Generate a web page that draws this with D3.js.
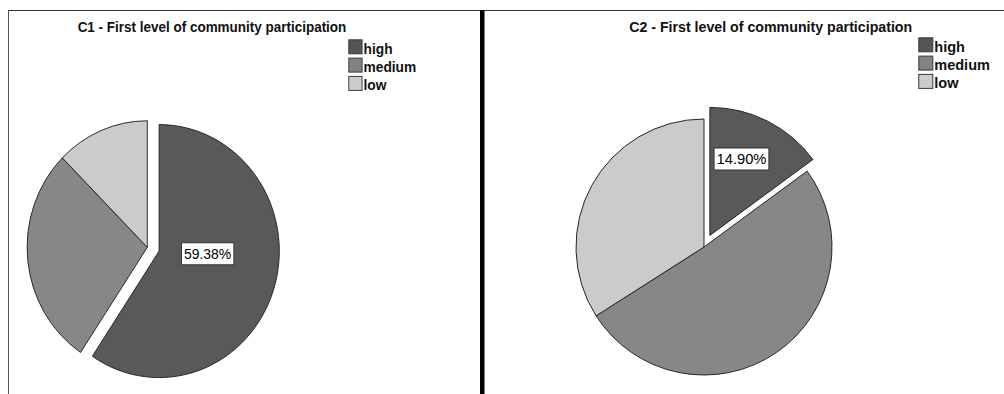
<!DOCTYPE html>
<html>
<head>
<meta charset="utf-8">
<script src="https://cdn.jsdelivr.net/npm/d3@7/dist/d3.min.js"></script>
<style>
  html, body { margin: 0; padding: 0; background: #fff; }
  svg { display: block; }
</style>
</head>
<body>
<svg id="chart" width="1004" height="394"></svg>
<script>
// Response categories shared by both pies
const categories = ["high", "medium", "low"];
// Percentage of respondents per category
const c1Values = [59.38, 28.13, 12.50];
const c2Values = [14.90, 51.06, 34.04];
const titles = [
  "C1 - First level of community participation",
  "C2 - First level of community participation"
];
// Slice that is pulled out and labelled in each pie
const highlighted = ["high", "high"];

const fills = d3.scaleOrdinal(categories, ["#595959", "#878787", "#cbcbcb"]);
const legendFills = d3.scaleOrdinal(categories, ["#555555", "#828282", "#cccccc"]);

const svg = d3.select("#chart");
const W = 1004, H = 394;

// Panel geometry
const panels = [
  { x: 8.5, sx: 0.95, cx: 146.1, cy: 247.3, r: 126.5, titleX: 214.2, titleY: 32.3,
    legendX: 357.7, legendY: 39.3, labelDx: 51, labelDy: 2.7 },
  { x: 485, sx: 1, cx: 219, cy: 247, r: 128, titleX: 285.7, titleY: 32.3,
    legendX: 433.3, legendY: 37.3, labelDx: 31.6, labelDy: -76.4 }
];
const seriesValues = [c1Values, c2Values];
const explode = 13;

// Frame: top rule, left rule and the heavy divider between the two charts
svg.append("line").attr("x1", 8).attr("x2", W).attr("y1", 10.5).attr("y2", 10.5)
  .attr("stroke", "#333").attr("stroke-width", 1);
svg.append("line").attr("x1", 8.5).attr("x2", 8.5).attr("y1", 10).attr("y2", H)
  .attr("stroke", "#555").attr("stroke-width", 1);
svg.append("rect").attr("x", 480).attr("y", 10).attr("width", 4.5).attr("height", H - 10)
  .attr("fill", "#000");

const pie = d3.pie().sort(null).value(d => d.value).startAngle(0).endAngle(2 * Math.PI);

panels.forEach((p, i) => {
  const g = svg.append("g").attr("transform", `translate(${p.x},0) scale(${p.sx},1)`);
  const data = categories.map((c, k) => ({ category: c, value: seriesValues[i][k] }));
  const arcs = pie(data);
  const arc = d3.arc().innerRadius(0).outerRadius(p.r);

  const offset = d => {
    if (d.data.category !== highlighted[i]) return [0, 0];
    const a = (d.startAngle + d.endAngle) / 2;
    return [explode * Math.sin(a), -explode * Math.cos(a)];
  };

  const pg = g.append("g").attr("transform", `translate(${p.cx},${p.cy})`);
  pg.selectAll("path.slice").data(arcs).join("path")
    .attr("class", "slice")
    .attr("transform", d => `translate(${offset(d)})`)
    .attr("d", arc)
    .attr("fill", d => fills(d.data.category))
    .attr("stroke", "#262626")
    .attr("stroke-width", 1)
    .attr("stroke-linejoin", "round");

  // Value label on the pulled-out slice
  const hl = arcs.find(d => d.data.category === highlighted[i]);
  const [ox, oy] = offset(hl);
  const lg = pg.append("g").attr("transform", `translate(${ox + p.labelDx},${oy + p.labelDy})`);
  const rect = lg.append("rect").attr("fill", "#fff").attr("stroke", "#333").attr("stroke-width", 1);
  const txt = lg.append("text")
    .attr("text-anchor", "middle")
    .attr("dy", "0.35em")
    .style("font-family", "'Liberation Sans', Arial, sans-serif")
    .style("font-size", "14.7px")
    .attr("fill", "#000")
    .text(d3.format(".2f")(hl.data.value) + "%");
  const bb = txt.node().getBBox();
  rect.attr("x", bb.x - 2.5).attr("y", -11).attr("width", bb.width + 5).attr("height", 22);

  // Title
  g.append("text")
    .attr("x", p.titleX).attr("y", p.titleY)
    .attr("text-anchor", "middle")
    .style("font-family", "'Liberation Sans', Arial, sans-serif")
    .style("font-size", "14.2px")
    .style("font-weight", "bold")
    .attr("fill", "#111")
    .text(titles[i]);

  // Legend
  const leg = g.append("g").attr("transform", `translate(${p.legendX},${p.legendY})`);
  const rows = leg.selectAll("g").data(categories).join("g")
    .attr("transform", (d, k) => `translate(0,${k * 18.3})`);
  rows.append("rect")
    .attr("x", 0.5).attr("y", 0.5).attr("width", 14).attr("height", 14)
    .attr("fill", d => legendFills(d))
    .attr("stroke", "#3a3a3a").attr("stroke-width", 1);
  rows.append("text")
    .attr("x", 16).attr("y", 14.4)
    .style("font-family", "'Liberation Sans', Arial, sans-serif")
    .style("font-size", "14.5px")
    .style("font-weight", "bold")
    .attr("fill", "#111")
    .text(d => d);
});
</script>
</body>
</html>
